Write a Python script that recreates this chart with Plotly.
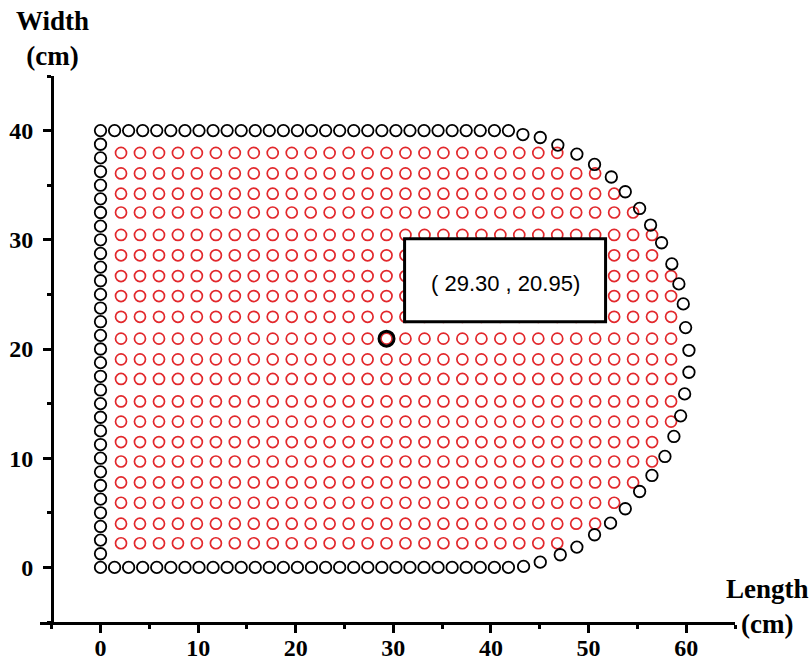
import plotly.graph_objects as go

# ---------------- data ----------------
# black boundary: top (y=40) and bottom (y=0) straight rows
edge_row_x = [0.0, 1.44, 2.88, 4.32, 5.76, 7.20, 8.65, 10.09, 11.53, 12.97,
              14.41, 15.85, 17.29, 18.73, 20.17, 21.61, 23.06, 24.50, 25.94, 27.38,
              28.82, 30.26, 31.70, 33.14, 34.58, 36.02, 37.46, 38.90, 40.35, 41.79]
edge_top_y = 40.0
edge_bottom_y = 0.0
# black boundary: left column (x=0)
edge_left_x = 0.0
edge_left_y = [1.25, 2.5, 3.75, 5.0, 6.25, 7.5, 8.75, 10.0, 11.25, 12.5, 13.75,
               15.0, 16.25, 17.5, 18.75, 20.0, 21.25, 22.5, 23.75, 25.0, 26.25,
               27.5, 28.75, 30.0, 31.25, 32.5, 33.75, 35.0, 36.25, 37.5, 38.75]
# black boundary: right arc
arc_x = [43.27, 45.05, 46.85, 48.80, 50.61, 52.33, 53.76, 55.23, 56.35, 57.48,
         58.53, 59.25, 59.70, 59.94, 60.28, 60.28, 59.84, 59.43, 58.74, 57.82,
         56.49, 55.23, 53.76, 52.25, 50.61, 48.80, 47.10, 45.05, 43.34]
arc_y = [39.64, 39.37, 38.67, 37.85, 36.90, 35.75, 34.40, 32.87, 31.35, 29.73,
         27.79, 25.96, 24.13, 21.96, 19.88, 17.87, 15.89, 13.88, 11.99, 10.16,
         8.42, 6.95, 5.37, 4.05, 2.99, 1.86, 1.16, 0.48, 0.09]

# red interior grid: column x positions, row y positions, columns used per row
red_cols_x = [2.10, 4.04, 5.99, 7.93, 9.87, 11.82, 13.76, 15.70, 17.64, 19.59,
              21.53, 23.47, 25.42, 27.36, 29.30, 31.24, 33.19, 35.13, 37.07, 39.02,
              40.96, 42.90, 44.85, 46.79, 48.73, 50.67, 52.62, 54.56, 56.50, 58.45]
red_rows_y = [37.96, 36.08, 34.22, 32.50, 30.45, 28.58, 26.68, 24.85, 22.95, 20.95,
              19.05, 17.26, 15.20, 13.35, 11.48, 9.70, 7.78, 5.92, 4.00, 2.21]
red_row_counts = [24, 26, 27, 28, 29, 29, 30, 30, 30, 30,
                  30, 30, 30, 30, 29, 29, 28, 27, 26, 24]

# highlighted point
highlight_x = [29.30]
highlight_y = [20.95]
highlight_label = "( 29.30 , 20.95)"

# axes
x_ticks = [0, 10, 20, 30, 40, 50, 60]
y_ticks = [0, 10, 20, 30, 40]

# ---------------- build ----------------
red_x, red_y = [], []
for yv, n in zip(red_rows_y, red_row_counts):
    for xv in red_cols_x[:n]:
        red_x.append(xv)
        red_y.append(yv)

blk_x = edge_row_x + edge_row_x + [edge_left_x] * len(edge_left_y) + arc_x
blk_y = ([edge_top_y] * len(edge_row_x) + [edge_bottom_y] * len(edge_row_x)
         + edge_left_y + arc_y)

RED = "rgb(226,40,44)"

fig = go.Figure()
fig.add_trace(go.Scatter(
    x=red_x, y=red_y, mode="markers",
    marker=dict(symbol="circle-open", size=11, color=RED, line=dict(width=1.7)),
    hoverinfo="skip"))
fig.add_trace(go.Scatter(
    x=blk_x, y=blk_y, mode="markers",
    marker=dict(symbol="circle-open", size=11.5, color="black", line=dict(width=1.8)),
    hoverinfo="skip"))
fig.add_trace(go.Scatter(
    x=highlight_x, y=highlight_y, mode="markers",
    marker=dict(symbol="circle-open", size=15, color="black", line=dict(width=3)),
    hoverinfo="skip"))

# label box
fig.add_shape(type="rect", xref="x", yref="y", x0=31.15, x1=51.74, y0=22.5, y1=30.1,
              line=dict(color="black", width=3), fillcolor="white", layer="above")
fig.add_annotation(x=41.45, y=26.0, xref="x", yref="y", text=highlight_label,
                   showarrow=False, xanchor="center", yanchor="middle",
                   font=dict(family="Liberation Sans, Arial", size=22, color="black"))

tickfont = dict(family="Liberation Serif, Times New Roman", size=24, color="black",
                weight="bold")
axis_common = dict(
    showline=True, linewidth=3, linecolor="black", showgrid=False, zeroline=False,
    ticks="outside", ticklen=8, tickwidth=3, tickcolor="black", tickfont=tickfont,
    automargin=False,
    minor=dict(dtick=5, tick0=0, ticks="outside", ticklen=4, tickwidth=3,
               tickcolor="black"),
)
# x axis starts a little left of the y axis (axes cross at x = -5)
fig.update_xaxes(range=[-6.2, 65], tickvals=x_ticks, ticklabelstandoff=-6, **axis_common)
fig.update_yaxes(range=[-5, 45], tickvals=y_ticks, ticklabelstandoff=5,
                 anchor="free", position=12 / 695, **axis_common)

titlefont = dict(family="Liberation Serif, Times New Roman", size=27, color="black",
                 weight="bold")
fig.add_annotation(xref="paper", yref="paper", x=12 / 695, y=1.069, text="Width<br>(cm)",
                   showarrow=False, xanchor="center", yanchor="middle", align="center",
                   font=titlefont)
fig.add_annotation(xref="paper", yref="paper", x=727 / 695, y=0.028, text="Length<br>(cm)",
                   showarrow=False, xanchor="center", yanchor="middle", align="center",
                   font=titlefont)

fig.update_layout(
    width=810, height=665,
    margin=dict(l=40, r=75, t=76, b=43, autoexpand=False),
    plot_bgcolor="white", paper_bgcolor="white",
    showlegend=False,
)

fig.write_html("out.html")
